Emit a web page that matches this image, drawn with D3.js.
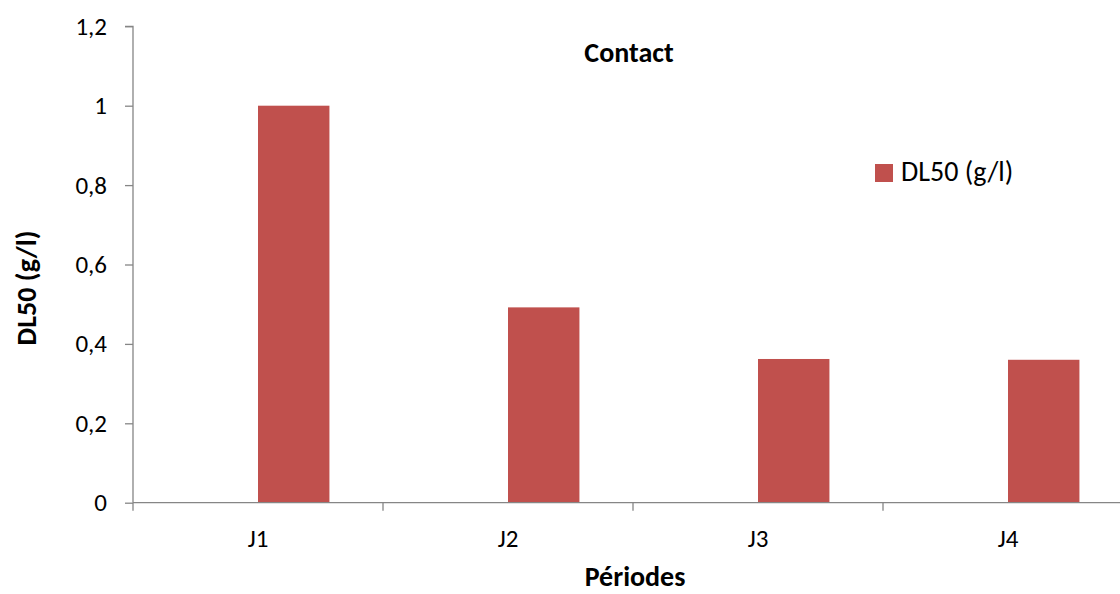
<!DOCTYPE html>
<html>
<head>
<meta charset="utf-8">
<script src="https://cdn.jsdelivr.net/npm/d3@7/dist/d3.min.js"></script>
<style>
  html, body { margin: 0; padding: 0; background: #fff; }
  svg { display: block; font-family: Carlito, Calibri, Lato, "Open Sans", sans-serif; }
</style>
</head>
<body>
<svg id="chart" width="1120" height="594"></svg>
<script>
// Lethal dose (DL50) per period, contact test
const periods = ["J1", "J2", "J3", "J4"];
const seriesNames = ["", "DL50 (g/l)"];   // first slot of each cluster is empty
const dl50Values = [1.0, 0.492, 0.362, 0.36];
const yTicks = [0, 0.2, 0.4, 0.6, 0.8, 1, 1.2];

const svg = d3.select("#chart");
const plot = { left: 133, right: 1133, top: 26.3, bottom: 502.7 };
const axisColor = "#868686";
const barColor = "#C0504D";
const tickFont = 25;
const labelFont = 28;

const x = d3.scaleBand().domain(periods).range([plot.left, plot.right]).paddingInner(0).paddingOuter(0);
// Excel-like cluster: gap width 150% with two series slots
const xInner = d3.scaleBand().domain(seriesNames).range([0, x.bandwidth()]).paddingInner(0).paddingOuter(0.75);
const y = d3.scaleLinear().domain([0, 1.2]).range([plot.bottom, plot.top]);

// Bars
svg.append("g")
  .selectAll("rect")
  .data(periods.map((p, i) => ({ p, v: dl50Values[i] })))
  .join("rect")
  .attr("x", d => x(d.p) + xInner(seriesNames[1]))
  .attr("width", xInner.bandwidth())
  .attr("y", d => y(d.v))
  .attr("height", d => y(0) - y(d.v))
  .attr("fill", barColor);

// Y axis
const yAxis = svg.append("g")
  .attr("transform", `translate(${plot.left},0)`)
  .call(d3.axisLeft(y).tickValues(yTicks).tickSize(8).tickPadding(18)
    .tickFormat(d => d3.format("~g")(d).replace(".", ",")));
yAxis.attr("font-family", null).attr("font-size", null);
yAxis.select(".domain").attr("stroke", axisColor).attr("stroke-width", 1.3).attr("d", `M-8,${y(1.2)}H0V${y(0)}`);
yAxis.selectAll(".tick line").attr("stroke", axisColor).attr("stroke-width", 1.3);
yAxis.selectAll(".tick text").attr("font-size", tickFont).attr("fill", "#000");

// X axis with ticks at category boundaries
const xAxisG = svg.append("g").attr("transform", `translate(0,${plot.bottom})`);
xAxisG.append("line")
  .attr("x1", plot.left).attr("x2", plot.right)
  .attr("stroke", axisColor).attr("stroke-width", 1.3);
const boundaries = periods.map(p => x(p)).concat([x(periods[periods.length - 1]) + x.bandwidth()]);
xAxisG.selectAll("line.tk").data(boundaries).join("line")
  .attr("class", "tk")
  .attr("x1", d => d).attr("x2", d => d)
  .attr("y1", 0).attr("y2", 8)
  .attr("stroke", axisColor).attr("stroke-width", 1.3);
xAxisG.selectAll("text").data(periods).join("text")
  .attr("x", d => x(d) + x.bandwidth() / 2)
  .attr("y", 44)
  .attr("text-anchor", "middle")
  .attr("font-size", tickFont)
  .text(d => d);

// Title
svg.append("text")
  .attr("x", 629).attr("y", 62)
  .attr("text-anchor", "middle")
  .attr("font-size", labelFont).attr("font-weight", "bold")
  .text("Contact");

// Axis titles
svg.append("text")
  .attr("x", 635).attr("y", 586)
  .attr("text-anchor", "middle")
  .attr("font-size", labelFont).attr("font-weight", "bold")
  .text("Périodes");
svg.append("text")
  .attr("transform", "translate(36,288) rotate(-90)")
  .attr("text-anchor", "middle")
  .attr("font-size", labelFont).attr("font-weight", "bold")
  .text("DL50 (g/l)");

// Legend
const legend = svg.append("g").attr("transform", "translate(875,164)");
legend.append("rect").attr("width", 18).attr("height", 18).attr("fill", barColor);
legend.append("text").attr("x", 26).attr("y", 17).attr("font-size", labelFont).text(seriesNames[1]);
</script>
</body>
</html>
